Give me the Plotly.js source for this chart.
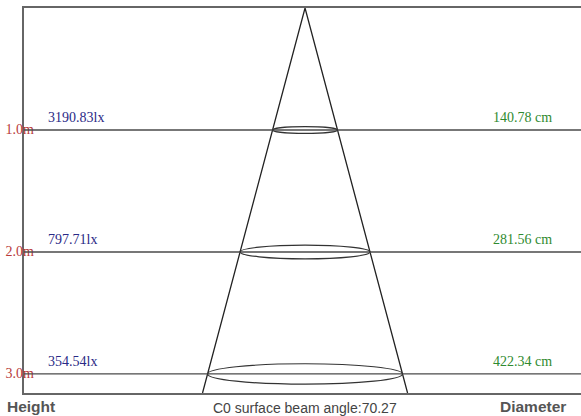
<!DOCTYPE html>
<html>
<head>
<meta charset="utf-8">
<script src="https://cdn.plot.ly/plotly-3.0.1.min.js"></script>
<style>
html,body{margin:0;padding:0;background:#fff;}
#chart{width:581px;height:416px;}
</style>
</head>
<body>
<div id="chart"></div>
<script>
// ---- data ----
var heights = [1.0, 2.0, 3.0];
var heightLabels = ['1.0m', '2.0m', '3.0m'];
var illuminance = [3190.83, 797.71, 354.54];
var illuminanceLabels = ['3190.83lx', '797.71lx', '354.54lx'];
var diameters = [140.78, 281.56, 422.34];
var diameterLabels = ['140.78 cm', '281.56 cm', '422.34 cm'];
var beamAngle = 70.27;

// ---- layout constants ----
var W = 581;
var frameLeft = 24 / W;    // paper fraction where the frame starts
var yMax = 3.156;          // metres at the bottom of the frame
var xRange = [-609, 598];  // cm
var flatten = 0.000397;    // ellipse vertical radius (m) per cm of radius

var slope = (diameters[0] / 2) / heights[0]; // cm of radius per metre

var traces = [];
// red height labels (on an overlay axis spanning the whole width, drawn under the lines)
traces.push({
  x: heights.map(function(){ return 5.5; }),
  y: heights.map(function(h){ return h + 0.008; }),
  xaxis: 'x2', yaxis: 'y',
  mode: 'text',
  text: heightLabels,
  textposition: 'middle right',
  cliponaxis: false,
  textfont: {family: 'Liberation Serif, Times New Roman, serif', size: 14, color: '#b83a3a'},
  hoverinfo: 'skip', showlegend: false
});
// cone edges
traces.push({
  x: [-slope * yMax, 0, slope * yMax],
  y: [yMax, 0, yMax],
  mode: 'lines',
  line: {color: '#222', width: 1.3},
  hoverinfo: 'skip', showlegend: false
});

var shapes = [];
heights.forEach(function(h, i){
  shapes.push({type: 'line', xref: 'x', yref: 'y', x0: xRange[0], x1: xRange[1], y0: h, y1: h,
    line: {color: '#4a4a4a', width: 1.3}, layer: 'above'});
  var r = diameters[i] / 2;
  var ry = r * flatten;
  shapes.push({type: 'circle', xref: 'x', yref: 'y', x0: -r, x1: r, y0: h - ry, y1: h + ry,
    line: {color: '#333', width: 1.2}, layer: 'above'});
});

var annotations = [];
heights.forEach(function(h, i){
  annotations.push({xref: 'paper', yref: 'y', x: 46 / W, y: h, yshift: 12,
    xanchor: 'left', yanchor: 'middle', showarrow: false, text: illuminanceLabels[i],
    font: {family: 'Liberation Serif, Times New Roman, serif', size: 14, color: '#2a2a86'}});
  annotations.push({xref: 'paper', yref: 'y', x: 554 / W, y: h, yshift: 12,
    xanchor: 'right', yanchor: 'middle', showarrow: false, text: diameterLabels[i],
    font: {family: 'Liberation Serif, Times New Roman, serif', size: 14, color: '#2f8a2f'}});
});
annotations.push({xref: 'paper', yref: 'paper', x: 5 / W, y: 0, yshift: -13,
  xanchor: 'left', yanchor: 'middle', showarrow: false, text: 'Height',
  font: {family: 'Liberation Sans, Arial, sans-serif', size: 15.5, color: '#555', weight: 'bold'}});
annotations.push({xref: 'paper', yref: 'paper', x: 498 / W, y: 0, yshift: -13,
  xanchor: 'left', yanchor: 'middle', showarrow: false, text: 'Diameter',
  font: {family: 'Liberation Sans, Arial, sans-serif', size: 15.5, color: '#555', weight: 'bold'}});
annotations.push({xref: 'paper', yref: 'paper', x: 305 / W, y: 0, yshift: -15,
  xanchor: 'center', yanchor: 'middle', showarrow: false,
  text: 'C0 surface beam angle:' + beamAngle.toFixed(2),
  font: {family: 'Liberation Sans, Arial, sans-serif', size: 14, color: '#444'}});

var layout = {
  width: 581, height: 416,
  margin: {l: 0, r: 0, t: 8, b: 23, pad: 0},
  paper_bgcolor: '#fff', plot_bgcolor: 'rgba(0,0,0,0)',
  xaxis: {domain: [frameLeft, 1], range: xRange, showgrid: false, zeroline: false,
    showticklabels: false, ticks: '', showline: true, mirror: true, linecolor: '#666',
    linewidth: 2, fixedrange: true},
  xaxis2: {domain: [0, 1], range: [0, W], anchor: 'y', visible: false, fixedrange: true},
  yaxis: {range: [yMax, 0], anchor: 'x', showgrid: false, zeroline: false, showticklabels: false,
    ticks: '', showline: true, mirror: false, linecolor: '#666', linewidth: 2, fixedrange: true},
  shapes: shapes,
  annotations: annotations,
  showlegend: false
};

Plotly.newPlot('chart', traces, layout, {displayModeBar: false, staticPlot: true});
</script>
</body>
</html>
